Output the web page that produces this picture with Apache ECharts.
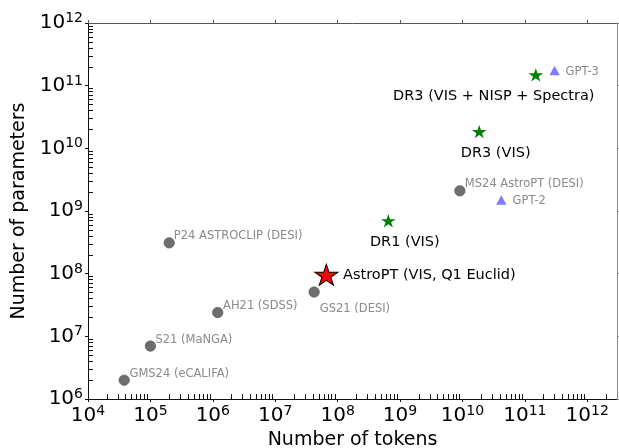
<!DOCTYPE html>
<html>
<head>
<meta charset="utf-8">
<script src="https://cdn.jsdelivr.net/npm/echarts@6/dist/echarts.min.js"></script>
<style>
  html, body { margin: 0; padding: 0; background: #fff; }
  #chart { width: 619px; height: 448px; }
</style>
</head>
<body>
<div id="chart"></div>
<script>
// Earlier astronomy foundation models (tokens seen vs. parameter count)
const priorNames = ['GMS24 (eCALIFA)', 'S21 (MaNGA)', 'AH21 (SDSS)', 'P24 ASTROCLIP (DESI)', 'GS21 (DESI)', 'MS24 AstroPT (DESI)'];
const priorTokens = [3.8e4, 1.0e5, 1.2e6, 2.0e5, 4.2e7, 9.1e9];
const priorParams = [2.0e6, 7.0e6, 2.4e7, 3.1e8, 5.1e7, 2.1e9];

// Language models for reference
const llmNames = ['GPT-2', 'GPT-3'];
const llmTokens = [4.2e10, 3.0e11];
const llmParams = [1.5e9, 1.75e11];

// Projected Euclid data releases
const euclidNames = ['DR1 (VIS)', 'DR3 (VIS)', 'DR3 (VIS + NISP + Spectra)'];
const euclidTokens = [6.5e8, 1.86e10, 1.5e11];
const euclidParams = [6.8e8, 1.8e10, 1.45e11];

// This work
const thisNames = ['AstroPT (VIS, Q1 Euclid)'];
const thisTokens = [6.6e7];
const thisParams = [9.2e7];

// Axis ranges and tick values
const xMin = 1e4, xMax = 3e12;
const yMin = 1e6, yMax = 1e12;
const xMajor = [1e4, 1e5, 1e6, 1e7, 1e8, 1e9, 1e10, 1e11, 1e12];
const yMajor = [1e6, 1e7, 1e8, 1e9, 1e10, 1e11, 1e12];

function minorTicks(lo, hi) {
  const out = [];
  for (let e = Math.floor(Math.log10(lo)); e <= Math.ceil(Math.log10(hi)); e++) {
    for (let m = 2; m <= 9; m++) {
      const v = m * Math.pow(10, e);
      if (v > lo && v < hi) out.push(v);
    }
  }
  return out;
}

// Label placement for each annotated point: [dx, dy] from the marker centre
const labelPlacement = {
  'GMS24 (eCALIFA)': { offset: [5.3, -6.3], align: 'left' },
  'S21 (MaNGA)': { offset: [5, -6.4], align: 'left' },
  'AH21 (SDSS)': { offset: [5.3, -6], align: 'left' },
  'P24 ASTROCLIP (DESI)': { offset: [4.6, -6.7], align: 'left' },
  'GS21 (DESI)': { offset: [5.7, 17.3], align: 'left' },
  'MS24 AstroPT (DESI)': { offset: [5, -6.4], align: 'left' },
  'GPT-2': { offset: [11.3, 1.5], align: 'left' },
  'GPT-3': { offset: [11, 1.5], align: 'left' },
  'DR1 (VIS)': { offset: [16.5, 21], align: 'center' },
  'DR3 (VIS)': { offset: [16.4, 22], align: 'center' },
  'DR3 (VIS + NISP + Spectra)': { offset: [-42, 21], align: 'center' },
  'AstroPT (VIS, Q1 Euclid)': { offset: [16.7, 0], align: 'left' }
};

function buildData(names, xs, ys) {
  return names.map((n, i) => {
    const p = labelPlacement[n];
    return {
      name: n,
      value: [xs[i], ys[i]],
      label: { offset: p.offset, align: p.align }
    };
  });
}

// Five-pointed star (outer radius 50, inner ~19) in a 100-unit box
const STAR = 'path://M50 0 L61.2 34.5 L97.6 34.5 L68.2 55.9 L79.4 90.5 L50 69.1 L20.6 90.5 L31.8 55.9 L2.4 34.5 L38.8 34.5 Z';
// star's geometric centre sits below its bounding-box centre
const starShift = h => [0, -0.0525 * h];

const FONT = 'DejaVu Sans';

function powLabel(v) {
  const e = Math.round(Math.log10(v));
  return '{b|10}{s|' + e + '}';
}
const powRich = {
  b: { fontFamily: FONT, fontSize: 20, color: '#000', lineHeight: 23 },
  s: { fontFamily: FONT, fontSize: 14, color: '#000', lineHeight: 14, verticalAlign: 'top' }
};

const hidden = { show: false };

function pointLabel(size) {
  return {
    show: true, position: 'inside', verticalAlign: 'middle',
    formatter: p => p.name,
    fontFamily: FONT, fontSize: size,
    color: size > 12 ? '#000' : '#8a8a8a'
  };
}

const option = {
  animation: false,
  backgroundColor: '#fff',
  textStyle: { fontFamily: FONT },
  grid: { left: 88, right: 2, top: 23, bottom: 49, containLabel: false, outerBoundsMode: 'none' },
  xAxis: [
    {
      type: 'log', logBase: 10, min: xMin, max: xMax, position: 'bottom',
      name: 'Number of tokens', nameLocation: 'middle', nameGap: 30,
      nameTextStyle: { fontFamily: FONT, fontSize: 19, color: '#000' },
      axisLine: { show: true, lineStyle: { color: '#111', width: 1 } },
      axisTick: { show: true, inside: false, length: 3, customValues: xMajor, lineStyle: { color: '#111' } },
      axisLabel: { show: true, margin: 5, customValues: xMajor, formatter: powLabel, rich: powRich },
      splitLine: hidden, minorTick: hidden, minorSplitLine: hidden
    },
    {
      type: 'log', logBase: 10, min: xMin, max: xMax, position: 'bottom',
      axisLine: hidden,
      axisTick: { show: true, inside: true, length: 5, customValues: minorTicks(xMin, xMax), lineStyle: { color: '#111' } },
      axisLabel: hidden, splitLine: hidden
    },
    {
      type: 'log', logBase: 10, min: xMin, max: xMax, position: 'top',
      axisLine: { show: true, lineStyle: { color: '#555', width: 1 } },
      axisTick: { show: true, inside: false, length: 3, customValues: xMajor, lineStyle: { color: '#555' } },
      axisLabel: hidden, splitLine: hidden
    }
  ],
  yAxis: [
    {
      type: 'log', logBase: 10, min: yMin, max: yMax, position: 'left',
      name: 'Number of parameters', nameLocation: 'middle', nameGap: 56, nameRotate: 90,
      nameTextStyle: { fontFamily: FONT, fontSize: 19, color: '#000' },
      axisLine: { show: true, lineStyle: { color: '#111', width: 1 } },
      axisTick: { show: true, inside: false, length: 3, customValues: yMajor, lineStyle: { color: '#111' } },
      axisLabel: { show: true, margin: 5, customValues: yMajor, formatter: powLabel, rich: powRich },
      splitLine: hidden, minorTick: hidden, minorSplitLine: hidden
    },
    {
      type: 'log', logBase: 10, min: yMin, max: yMax, position: 'left',
      axisLine: hidden,
      axisTick: { show: true, inside: true, length: 5, customValues: minorTicks(yMin, yMax), lineStyle: { color: '#111' } },
      axisLabel: hidden, splitLine: hidden
    },
    {
      type: 'log', logBase: 10, min: yMin, max: yMax, position: 'right',
      axisLine: { show: true, lineStyle: { color: '#888', width: 1 } },
      axisTick: { show: true, inside: false, length: 3, customValues: yMajor, lineStyle: { color: '#888' } },
      axisLabel: hidden, splitLine: hidden
    }
  ],
  series: [
    {
      name: 'prior', type: 'scatter', xAxisIndex: 0, yAxisIndex: 0,
      symbol: 'circle', symbolSize: 10.5,
      itemStyle: { color: '#6e6e6e', borderColor: '#555', borderWidth: 0.6, opacity: 1 },
      label: pointLabel(11.5),
      data: buildData(priorNames, priorTokens, priorParams)
    },
    {
      name: 'llm', type: 'scatter', xAxisIndex: 0, yAxisIndex: 0,
      symbol: 'triangle', symbolSize: [10.5, 9.5],
      itemStyle: { color: 'rgba(0,0,255,0.5)', opacity: 1 },
      label: pointLabel(11.5),
      data: buildData(llmNames, llmTokens, llmParams)
    },
    {
      name: 'euclid', type: 'scatter', xAxisIndex: 0, yAxisIndex: 0,
      symbol: STAR, symbolKeepAspect: true, symbolSize: [14.7, 14], symbolOffset: starShift(14),
      itemStyle: { color: '#008000', opacity: 1 },
      label: pointLabel(14.5),
      data: buildData(euclidNames, euclidTokens, euclidParams)
    },
    {
      name: 'astropt', type: 'scatter', xAxisIndex: 0, yAxisIndex: 0,
      symbol: STAR, symbolKeepAspect: true, symbolSize: [23, 21.9], symbolOffset: starShift(21.9),
      itemStyle: { color: '#ff0000', borderColor: '#000', borderWidth: 1, opacity: 1 },
      label: pointLabel(14.5),
      z: 5,
      data: buildData(thisNames, thisTokens, thisParams)
    }
  ]
};

const chart = echarts.init(document.getElementById('chart'), null, { renderer: 'canvas' });
chart.setOption(option);
</script>
</body>
</html>
